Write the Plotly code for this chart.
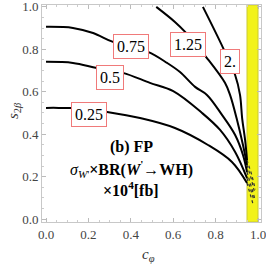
import plotly.graph_objects as go

# contour levels (sigma x BR x 10^4 [fb])
levels = ["0.25", "0.5", "0.75", "1.25", "2."]

# traced contour points (c_phi, s_2beta)
c_025 = [0.0, 0.06, 0.127, 0.2, 0.288, 0.443, 0.608, 0.764, 0.877, 0.948]
s_025 = [0.524, 0.524, 0.523, 0.517, 0.505, 0.476, 0.429, 0.349, 0.269, 0.170]

c_05 = [0.0, 0.127, 0.24, 0.363, 0.49, 0.6, 0.736, 0.821, 0.892, 0.948]
s_05 = [0.741, 0.736, 0.712, 0.689, 0.642, 0.603, 0.5, 0.42, 0.316, 0.193]

c_075 = [0.0, 0.127, 0.222, 0.316, 0.481, 0.571, 0.632, 0.703, 0.759, 0.830, 0.892, 0.929, 0.948]
s_075 = [0.906, 0.901, 0.877, 0.835, 0.788, 0.736, 0.693, 0.623, 0.585, 0.491, 0.396, 0.302, 0.222]

c_125 = [0.52, 0.608, 0.656, 0.759, 0.844, 0.868, 0.901, 0.929, 0.948]
s_125 = [1.0, 0.929, 0.882, 0.759, 0.642, 0.585, 0.467, 0.349, 0.255]

c_2 = [0.74, 0.835, 0.892, 0.915, 0.925, 0.939, 0.948]
s_2 = [1.0, 0.807, 0.679, 0.585, 0.476, 0.373, 0.278]

curves_c = [c_025, c_05, c_075, c_125, c_2]
curves_s = [s_025, s_05, s_075, s_125, s_2]

# dashed continuation inside the excluded band
band_c = [[0.948, 0.962, 0.975], [0.948, 0.965, 0.982], [0.948, 0.967, 0.985],
          [0.948, 0.968, 0.985], [0.948, 0.970, 0.987]]
band_s = [[0.170, 0.12, 0.075], [0.193, 0.14, 0.085], [0.222, 0.16, 0.095],
          [0.255, 0.19, 0.12], [0.278, 0.21, 0.14]]

# label positions
label_c = [0.203, 0.30, 0.399, 0.67, 0.868]
label_s = [0.495, 0.667, 0.814, 0.823, 0.745]

# excluded band in c_phi
band_x = [0.948, 1.0]

ticks = [0.0, 0.2, 0.4, 0.6, 0.8, 1.0]

serif = "Liberation Serif"

fig = go.Figure()

fig.add_shape(type="rect", xref="x", yref="paper", x0=band_x[0], x1=band_x[1], y0=0, y1=1,
              fillcolor="#f2f21a", line=dict(color="#c9c936", width=1), layer="below")

for cc, ss in zip(curves_c, curves_s):
    fig.add_trace(go.Scatter(x=cc, y=ss, mode="lines", line=dict(color="black", width=2, shape="spline"),
                             showlegend=False, hoverinfo="skip"))
for cc, ss in zip(band_c, band_s):
    fig.add_trace(go.Scatter(x=cc, y=ss, mode="lines", line=dict(color="#333", width=1.2, dash="dot"),
                             showlegend=False, hoverinfo="skip"))

for lab, x, y in zip(levels, label_c, label_s):
    fig.add_annotation(x=x, y=y, text=lab, showarrow=False, bgcolor="white",
                       bordercolor="#f07a7a", borderwidth=1, borderpad=3,
                       xanchor="center", yanchor="middle",
                       font=dict(family=serif, size=16, color="black"))

text_lines = ["<b>(b) FP</b>",
              "<i>σ</i><sub><i>W</i>'</sub><b>×BR(<i>W</i><sup>'</sup>→WH)</b>",
              "<b>×10<sup>4</sup>[fb]</b>"]
text_s = [0.34, 0.236, 0.142]
for t, y in zip(text_lines, text_s):
    fig.add_annotation(x=0.401, y=y, text=t, showarrow=False, xanchor="center", yanchor="middle",
                       font=dict(family=serif, size=16, color="black"))

fig.add_annotation(x=0.481, y=-0.152, xref="x", yref="paper", text="<i>c</i><sub><i>φ</i></sub>",
                   showarrow=False, xanchor="center", yanchor="middle",
                   font=dict(family=serif, size=15, color="#333"))
fig.add_annotation(x=-0.128, y=0.516, xref="paper", yref="paper", text="<i>s</i><sub>2<i>β</i></sub>",
                   textangle=-90, showarrow=False, xanchor="center", yanchor="middle",
                   font=dict(family=serif, size=15, color="#333"))

axis_common = dict(showgrid=False, zeroline=False, showline=True, linecolor="#c8c8c8", linewidth=1,
                   mirror="allticks", ticks="inside", ticklen=4, tickcolor="#bbbbbb",
                   tickvals=ticks, tickformat=".1f", automargin=False, ticklabeloverflow="allow",
                   tickfont=dict(family=serif, size=13, color="#444"),
                   minor=dict(dtick=0.05, ticks="inside", ticklen=2, tickcolor="#cccccc"))

fig.update_xaxes(range=[-0.019, 1.014], **axis_common)
fig.update_yaxes(range=[-0.014, 1.009], **axis_common)

fig.update_layout(width=266, height=266, margin=dict(l=42, r=5, t=5, b=44, autoexpand=False),
                  plot_bgcolor="white", paper_bgcolor="white")

fig.write_html("out.html", config={"displayModeBar": False, "responsive": False},
               post_script="document.documentElement.style.overflow='hidden';"
                           "document.body.style.overflow='hidden';"
                           "document.body.style.margin='0';document.body.style.padding='0';")
